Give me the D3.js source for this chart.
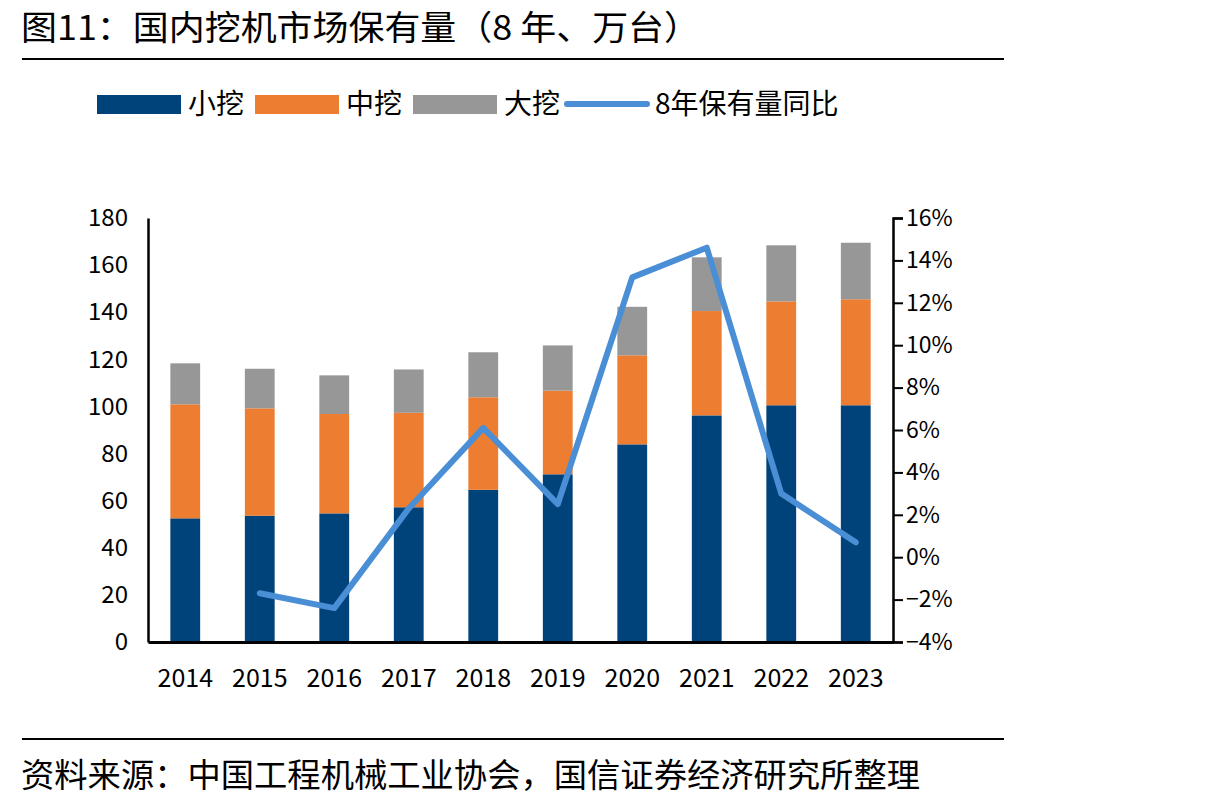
<!DOCTYPE html>
<html>
<head>
<meta charset="utf-8">
<script src="https://cdn.jsdelivr.net/npm/d3@7"></script>
<style>
  body { margin: 0; background: #fff; }
  svg { display: block; }
  text { font-family: "Noto Sans CJK SC", "Noto Sans", sans-serif; fill: #000; }
</style>
</head>
<body>
<div id="chart"></div>
<script>
// data (万台, %)
const years = ["2014", "2015", "2016", "2017", "2018", "2019", "2020", "2021", "2022", "2023"];
const small = [52.5, 53.6, 54.6, 57.2, 64.6, 71.2, 83.9, 96.2, 100.5, 100.5];
const medium = [48.4, 45.6, 42.2, 40.1, 39.3, 35.5, 37.8, 44.3, 44.1, 45.0];
const large = [17.4, 16.8, 16.4, 18.4, 19.1, 19.2, 20.6, 22.8, 23.8, 24.0];
const yoy = [null, -1.7, -2.4, 2.3, 6.1, 2.5, 13.2, 14.6, 3.0, 0.7];

const seriesNames = ["小挖", "中挖", "大挖"];
const lineName = "8年保有量同比";
const colors = ["#00427a", "#ed7d31", "#979797"];
const lineColor = "#4a8fd6";

const W = 1220, H = 807;
const plot = { left: 148, right: 893, top: 218, bottom: 642 };

const svg = d3.select("#chart").append("svg")
    .attr("width", W)
    .attr("height", H);

// title + rules
svg.append("text")
    .attr("x", 21).attr("y", 40)
    .attr("font-size", 34)
    .attr("textLength", 679)
    .attr("lengthAdjust", "spacingAndGlyphs")
    .text("图11：国内挖机市场保有量（8 年、万台）");

svg.append("line")
    .attr("x1", 22).attr("x2", 1004).attr("y1", 59).attr("y2", 59)
    .attr("stroke", "#000").attr("stroke-width", 2);

svg.append("line")
    .attr("x1", 22).attr("x2", 1004).attr("y1", 739).attr("y2", 739)
    .attr("stroke", "#000").attr("stroke-width", 2);

svg.append("text")
    .attr("x", 21).attr("y", 787)
    .attr("font-size", 33)
    .attr("textLength", 899)
    .attr("lengthAdjust", "spacingAndGlyphs")
    .text("资料来源：中国工程机械工业协会，国信证券经济研究所整理");

// scales
const x = d3.scaleBand()
    .domain(years)
    .range([plot.left, plot.right])
    .paddingInner(0.6)
    .paddingOuter(0.3);

const y = d3.scaleLinear().domain([0, 180]).range([plot.bottom, plot.top]);
const y2 = d3.scaleLinear().domain([-4, 16]).range([plot.bottom, plot.top]);

// stacked bars
const rows = years.map((yr, i) => ({ year: yr, s: small[i], m: medium[i], l: large[i] }));
const layers = d3.stack().keys(["s", "m", "l"])(rows);

svg.append("g")
    .selectAll("g")
    .data(layers)
    .join("g")
    .attr("fill", (d, i) => colors[i])
    .selectAll("rect")
    .data(d => d)
    .join("rect")
    .attr("x", d => x(d.data.year))
    .attr("width", x.bandwidth())
    .attr("y", d => y(d[1]))
    .attr("height", d => y(d[0]) - y(d[1]));

// yoy line
const line = d3.line()
    .defined(d => d.v != null)
    .x(d => x(d.year) + x.bandwidth() / 2)
    .y(d => y2(d.v));

svg.append("path")
    .datum(years.map((yr, i) => ({ year: yr, v: yoy[i] })))
    .attr("d", line)
    .attr("fill", "none")
    .attr("stroke", lineColor)
    .attr("stroke-width", 6)
    .attr("stroke-linejoin", "round")
    .attr("stroke-linecap", "round");

// axes
const leftAxis = svg.append("g")
    .attr("transform", `translate(${plot.left},0)`)
    .call(d3.axisLeft(y).tickValues(d3.range(0, 181, 20)).tickSize(0).tickPadding(20));
leftAxis.select(".domain").attr("stroke", "#000").attr("stroke-width", 2.5);
leftAxis.selectAll("text").attr("font-size", 24).attr("font-family", "Lato, sans-serif");

const rightAxis = svg.append("g")
    .attr("transform", `translate(${plot.right},0)`)
    .call(d3.axisRight(y2).tickValues(d3.range(-4, 17, 2)).tickSize(10).tickPadding(3)
        .tickSizeOuter(10)
        .tickFormat(d => d3.format(".0f")(d) + "%"));
rightAxis.select(".domain").attr("stroke", "#000").attr("stroke-width", 2.5);
rightAxis.selectAll("line").attr("stroke", "#000").attr("stroke-width", 2);
rightAxis.selectAll("text").attr("font-size", 23).attr("font-family", "Lato, sans-serif");

const bottomAxis = svg.append("g")
    .attr("transform", `translate(0,${plot.bottom})`)
    .call(d3.axisBottom(x).tickSize(0).tickSizeOuter(0).tickPadding(27));
bottomAxis.select(".domain").attr("stroke", "#000").attr("stroke-width", 3);
bottomAxis.selectAll("text").attr("font-size", 25).attr("font-family", "Lato, sans-serif");

// legend
const legend = svg.append("g").attr("transform", "translate(0,104)");
const legendItems = [
    { name: seriesNames[0], color: colors[0], x: 97, type: "rect" },
    { name: seriesNames[1], color: colors[1], x: 255, type: "rect" },
    { name: seriesNames[2], color: colors[2], x: 413, type: "rect" },
    { name: lineName, color: lineColor, x: 567, type: "line" }
];
legendItems.forEach(it => {
    if (it.type === "rect") {
        legend.append("rect")
            .attr("x", it.x).attr("y", -9)
            .attr("width", 84).attr("height", 19)
            .attr("fill", it.color);
    } else {
        legend.append("line")
            .attr("x1", it.x).attr("x2", it.x + 80)
            .attr("y1", 0).attr("y2", 0)
            .attr("stroke", it.color).attr("stroke-width", 6)
            .attr("stroke-linecap", "round");
    }
    legend.append("text")
        .attr("x", it.x + (it.type === "rect" ? 91 : 88))
        .attr("y", 10)
        .attr("font-size", 28)
        .text(it.name);
});
</script>
</body>
</html>
